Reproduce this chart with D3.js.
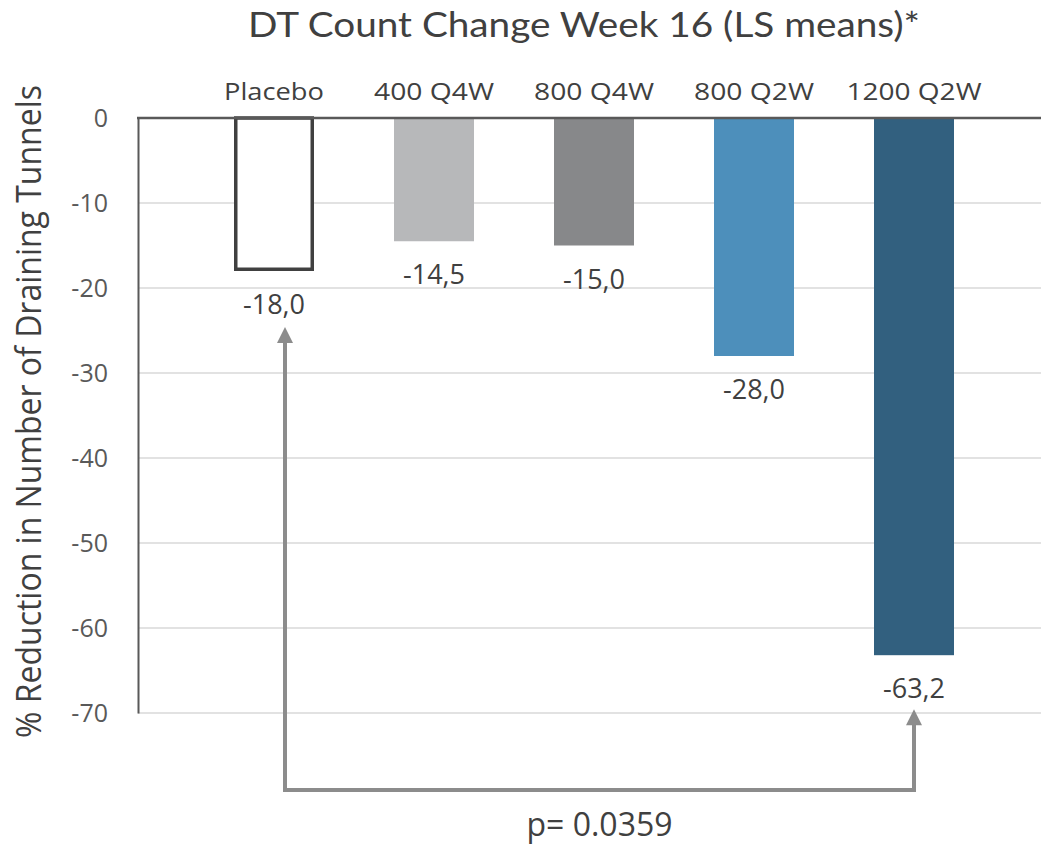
<!DOCTYPE html>
<html>
<head>
<meta charset="utf-8">
<script src="https://cdn.jsdelivr.net/npm/d3@7/dist/d3.min.js"></script>
<style>
  html, body { margin: 0; padding: 0; background: #fff; }
  svg { display: block; }
</style>
</head>
<body>
<svg id="chart" width="1041" height="845"></svg>
<script>
const categories = ["Placebo", "400 Q4W", "800 Q4W", "800 Q2W", "1200 Q2W"];
const values = [-18.0, -14.5, -15.0, -28.0, -63.2];
const barColors = ["#ffffff", "#b7b8ba", "#87888a", "#4d8fbb", "#32607f"];
const yTicks = [0, -10, -20, -30, -40, -50, -60, -70];
const titleText = "DT Count Change Week 16 (LS means)*";
const yAxisTitle = "% Reduction in Number of Draining Tunnels";
const pValueText = "p= 0.0359";
const comparison = ["Placebo", "1200 Q2W"];

const svg = d3.select("#chart");
const plotLeft = 138, plotRight = 1041;

const x = d3.scaleBand().domain(categories).range([194, 994]).paddingInner(0.5).paddingOuter(0.25);
const y = d3.scaleLinear().domain([-70, 0]).range([713, 118]);

const labelWidths = { "Placebo": 100, "400 Q4W": 120, "800 Q4W": 120, "800 Q2W": 120, "1200 Q2W": 135 };

// Gridlines
svg.append("g").selectAll("line").data(yTicks.filter(d => d !== 0)).join("line")
  .attr("x1", plotLeft).attr("x2", plotRight)
  .attr("y1", d => y(d)).attr("y2", d => y(d))
  .attr("stroke", "#d9d9d9").attr("stroke-width", 1.5);

// Bars
const bw = x.bandwidth();
svg.append("g").selectAll("rect").data(categories).join("rect")
  .attr("x", (d, i) => i === 0 ? x(d) + 1.75 : x(d))
  .attr("width", (d, i) => i === 0 ? bw - 3.5 : bw)
  .attr("y", y(0))
  .attr("height", (d, i) => i === 0 ? y(values[i]) - y(0) - 1.75 : y(values[i]) - y(0))
  .attr("fill", (d, i) => barColors[i])
  .attr("stroke", (d, i) => i === 0 ? "#404040" : "none")
  .attr("stroke-width", 3.5);

// Y axis
const yAxis = d3.axisLeft(y).tickValues(yTicks).tickSize(0).tickPadding(30).tickFormat(d => String(d));
const gy = svg.append("g").attr("transform", `translate(${plotLeft},0)`).call(yAxis);
gy.select(".domain").attr("stroke", "#595959").attr("stroke-width", 2);
gy.selectAll("text").attr("font-family", "'Open Sans', sans-serif").attr("font-size", 25).attr("fill", "#595959");

// Zero line
svg.append("line")
  .attr("x1", plotLeft - 1).attr("x2", plotRight)
  .attr("y1", y(0)).attr("y2", y(0))
  .attr("stroke", "#595959").attr("stroke-width", 2.5);

// Category labels
svg.append("g").selectAll("text").data(categories).join("text")
  .attr("x", d => x(d) + bw / 2)
  .attr("y", 100)
  .attr("text-anchor", "middle")
  .attr("font-family", "'Open Sans', sans-serif")
  .attr("font-size", 24)
  .attr("fill", "#404040")
  .attr("textLength", d => labelWidths[d])
  .attr("lengthAdjust", "spacingAndGlyphs")
  .text(d => d);

// Value labels
const fmt = v => d3.format(".1f")(v).replace("−", "-").replace(".", ",");
svg.append("g").selectAll("text").data(categories).join("text")
  .attr("x", d => x(d) + bw / 2)
  .attr("y", (d, i) => y(values[i]) + 43)
  .attr("text-anchor", "middle")
  .attr("font-family", "'Open Sans', sans-serif")
  .attr("font-size", 27)
  .attr("fill", "#404040")
  .text((d, i) => fmt(values[i]));

// Title
svg.append("text")
  .attr("x", 584).attr("y", 37)
  .attr("text-anchor", "middle")
  .attr("font-family", "Lato, 'Open Sans', sans-serif")
  .attr("font-size", 35)
  .attr("fill", "#404040")
  .attr("textLength", 672)
  .attr("lengthAdjust", "spacingAndGlyphs")
  .text(titleText);

// Y axis title
svg.append("text")
  .attr("transform", `translate(41,${(85 + 738) / 2}) rotate(-90)`)
  .attr("text-anchor", "middle")
  .attr("font-family", "'Open Sans', sans-serif")
  .attr("font-size", 34)
  .attr("fill", "#404040")
  .attr("textLength", 653)
  .attr("lengthAdjust", "spacingAndGlyphs")
  .text(yAxisTitle);

// Significance bracket with arrows
const iA = categories.indexOf(comparison[0]);
const iB = categories.indexOf(comparison[1]);
const xa = x(comparison[0]) + bw / 2 + 11;
const xb = x(comparison[1]) + bw / 2;
const yBase = y(-70) + 77;
const tipA = y(values[iA]) + 56;
const tipB = y(values[iB]) + 54;
const arrowColor = "#8c8c8c";
const head = 16, halfW = 8;

svg.append("path")
  .attr("d", `M${xa},${tipA + head - 2} L${xa},${yBase} L${xb},${yBase} L${xb},${tipB + head - 2}`)
  .attr("fill", "none").attr("stroke", arrowColor).attr("stroke-width", 4)
  .attr("stroke-linejoin", "miter");
[[xa, tipA], [xb, tipB]].forEach(([ax, ty]) => {
  svg.append("path")
    .attr("d", `M${ax},${ty} L${ax - halfW},${ty + head} L${ax + halfW},${ty + head} Z`)
    .attr("fill", arrowColor);
});

// p-value
svg.append("text")
  .attr("x", (xa + xb) / 2).attr("y", 836)
  .attr("text-anchor", "middle")
  .attr("font-family", "'Open Sans', sans-serif")
  .attr("font-size", 32)
  .attr("fill", "#404040")
  .text(pValueText);
</script>
</body>
</html>
